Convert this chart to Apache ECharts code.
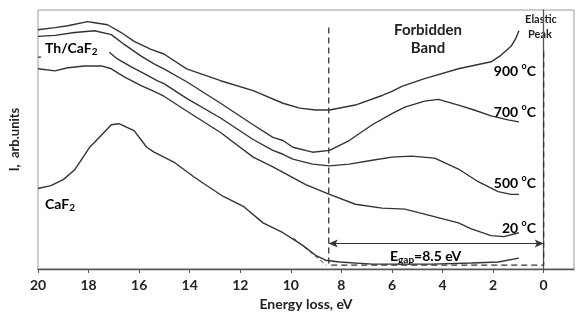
<!DOCTYPE html>
<html lang="en">
<head>
<meta charset="UTF-8">
<title>EELS spectra</title>
<script src="https://cdn.jsdelivr.net/npm/echarts@6/dist/echarts.min.js"></script>
<style>
  html, body { margin: 0; padding: 0; background: #fff; }
  #main { width: 579px; height: 316px; }
</style>
</head>
<body>
<div id="main"></div>
<script>
// energy loss (eV) and intensity (arb. units, 0..100)
var e900 = [20, 19.33, 18.82, 18.04, 17.76, 17.25, 16.71, 16.2, 15.53, 15.02, 14.12, 12.78, 11.49, 10.31, 9.65, 9.02, 8.47, 7.45, 6.39, 6.0, 5.61, 4.71, 3.37, 2.08, 1.69, 1.29, 1.1, 0.98];
var i900 = [92.4, 93.2, 93.9, 95.5, 95.1, 94.3, 91.3, 87.9, 84.8, 83.0, 77.3, 72.7, 68.9, 64.0, 62.1, 61.4, 61.4, 63.3, 67.0, 68.6, 70.5, 73.5, 77.3, 80.0, 82.5, 86.0, 89.0, 92.0];

var e700 = [20, 19.33, 18.55, 17.76, 17.1, 16.59, 15.92, 15.41, 15.02, 14.12, 12.78, 11.49, 10.71, 10.31, 9.92, 9.14, 8.47, 7.69, 6.78, 6.0, 5.49, 4.71, 4.16, 3.37, 2.75, 2.08, 1.41, 0.98];
var i700 = [89.8, 90.2, 91.3, 92.0, 90.5, 86.7, 82.2, 79.2, 77.3, 72.3, 64.0, 55.7, 50.8, 49.6, 47.0, 45.1, 45.8, 49.6, 55.7, 60.0, 62.5, 64.8, 65.5, 63.3, 61.4, 59.1, 57.6, 56.8];

var e500 = [20, 19.88, 19.5, 17.18, 16.86, 16.31, 15.8, 15.29, 15.02, 14.12, 12.78, 11.49, 10.71, 10.31, 9.92, 9.14, 8.47, 7.69, 6.78, 6.0, 5.22, 4.31, 3.37, 2.59, 1.8, 1.29, 0.98];
var i500 = [81.8, 81.8, '-', 83.7, 81.1, 78.0, 75.4, 72.7, 71.6, 65.9, 58.3, 50.0, 45.8, 44.3, 42.4, 40.5, 39.8, 40.5, 42.0, 43.2, 43.6, 42.8, 38.6, 33.7, 29.9, 28.8, 28.8];

var e20 = [20, 19.33, 18.82, 18.16, 17.49, 17.1, 16.59, 15.92, 15.41, 15.02, 14.12, 12.78, 11.49, 10.71, 9.41, 8.47, 7.45, 6.39, 5.49, 4.71, 3.37, 2.86, 2.08, 1.57, 0.98];
var i20 = [77.3, 76.5, 77.7, 78.4, 78.4, 77.3, 74.2, 70.8, 68.6, 66.7, 61.0, 52.7, 43.2, 39.4, 32.6, 28.8, 25.0, 23.5, 23.1, 21.2, 17.8, 15.5, 12.9, 12.5, 14.0];

var eCaF2 = [20, 19.49, 19.0, 18.55, 17.96, 17.76, 17.1, 16.8, 16.2, 15.7, 15.41, 14.63, 13.84, 13.45, 12.67, 11.88, 11.1, 10.31, 9.53, 9.02, 8.63, 8.08, 6.78, 4.43, 2.86, 1.8, 0.98];
var iCaF2 = [31.1, 32.2, 34.5, 38.3, 47.0, 48.9, 55.7, 56.1, 53.4, 47.0, 45.1, 41.3, 35.6, 33.0, 28.0, 24.2, 17.8, 14.0, 9.1, 5.3, 3.4, 2.7, 1.9, 1.9, 2.3, 2.7, 4.2];

// forbidden band markers
var gapEdge = 8.5;
var gapBox = [[8.5, 93.2], [8.5, 1.5], [0, 1.5], [0, 84.1]];
var tangent = [[9.9, 12.0], [8.6, 1.5]];
var arrowLevel = 9.85;
var xTicks = [0, 2, 4, 6, 8, 10, 12, 14, 16, 18, 20];

function zip(xs, ys) {
  return xs.map(function (x, i) { return [x, ys[i]]; });
}

var FONT = 'Lato';
var curveStyle = { color: '#333', width: 1.4 };

function curve(name, xs, ys) {
  return {
    name: name, type: 'line', data: zip(xs, ys),
    showSymbol: false, symbol: 'none', lineStyle: curveStyle
  };
}

function richSub() {
  return {
    m: { fontFamily: FONT, fontWeight: 'bold', fontSize: 14, lineHeight: 18, color: '#222' },
    s: { fontFamily: FONT, fontWeight: 'bold', fontSize: 10, lineHeight: 10, color: '#222', verticalAlign: 'bottom' }
  };
}

function tempLabel(t, top) {
  return {
    type: 'text', right: 43, top: top,
    style: {
      text: '{m|' + t + '}{o|o}{m|C}',
      rich: {
        m: { fontFamily: FONT, fontWeight: 'bold', fontSize: 14, lineHeight: 18, color: '#222' },
        o: { fontFamily: FONT, fontWeight: 'bold', fontSize: 9, lineHeight: 9, color: '#222', verticalAlign: 'top' }
      }
    }
  };
}

var myChart = echarts.init(document.getElementById('main'));
var option = {
  animation: false,
  grid: { left: 32, right: 5, top: 10, bottom: 42, show: true, borderColor: '#9a9a9a', borderWidth: 1 },
  xAxis: {
    type: 'value', inverse: true, min: -1.2, max: 20,
    name: 'Energy loss, eV', nameLocation: 'middle', nameGap: 28,
    nameTextStyle: { fontFamily: FONT, fontWeight: 'bold', fontSize: 14, color: '#222' },
    axisLine: { lineStyle: { color: '#555', width: 1.3 } },
    axisTick: { show: true, length: 4, customValues: xTicks, lineStyle: { color: '#555' } },
    axisLabel: { customValues: xTicks, margin: 9, fontFamily: FONT, fontWeight: 'bold', fontSize: 14, color: '#222' },
    splitLine: { show: false }
  },
  yAxis: {
    type: 'value', min: 0, max: 100,
    name: 'I,  arb.units', nameLocation: 'middle', nameGap: 17, nameRotate: 90,
    nameTextStyle: { fontFamily: FONT, fontWeight: 'bold', fontSize: 13, color: '#222' },
    axisLine: { show: true, lineStyle: { color: '#555', width: 1.3 } },
    axisTick: { show: false }, axisLabel: { show: false }, splitLine: { show: false }
  },
  series: [
    curve('900', e900, i900),
    curve('700', e700, i700),
    curve('500', e500, i500),
    curve('20', e20, i20),
    curve('CaF2', eCaF2, iCaF2),
    {
      name: 'gap', type: 'line', data: gapBox, showSymbol: false, symbol: 'none',
      lineStyle: { color: '#333', width: 1.3, type: [6, 4] },
      markLine: {
        silent: true, symbol: ['arrow', 'arrow'], symbolSize: [6, 9],
        label: { show: false },
        lineStyle: { type: 'solid', color: '#333', width: 1 },
        data: [[{ coord: [gapEdge, arrowLevel] }, { coord: [0, arrowLevel] }]]
      }
    },
    {
      name: 'tangent', type: 'line', data: tangent, showSymbol: false, symbol: 'none',
      lineStyle: { color: '#333', width: 1, type: [4, 3] }
    }
  ],
  graphic: [
    { type: 'text', left: 45, top: 41, style: { rich: richSub(), text: '{m|Th/CaF}{s|2}' } },
    { type: 'text', left: 45, top: 197, style: { rich: richSub(), text: '{m|CaF}{s|2}' } },
    { type: 'text', x: 428, y: 30, style: { text: 'Forbidden', font: 'bold 15px ' + FONT, fill: '#222', align: 'center', verticalAlign: 'middle' } },
    { type: 'text', x: 428, y: 48, style: { text: 'Band', font: 'bold 15px ' + FONT, fill: '#222', align: 'center', verticalAlign: 'middle' } },
    { type: 'text', x: 541, y: 19, style: { text: 'Elastic', font: 'bold 11px ' + FONT, fill: '#222', align: 'center', verticalAlign: 'middle' } },
    { type: 'text', x: 540, y: 34, style: { text: 'Peak', font: 'bold 11px ' + FONT, fill: '#222', align: 'center', verticalAlign: 'middle' } },
    tempLabel('900 ', 62),
    tempLabel('700 ', 103),
    tempLabel('500 ', 174),
    tempLabel('20 ', 219),
    { type: 'text', left: 390, top: 249, style: { rich: richSub(), text: '{m|E}{s|gap}{m|=8.5 eV}' } }
  ]
};

myChart.setOption(option);
</script>
</body>
</html>
